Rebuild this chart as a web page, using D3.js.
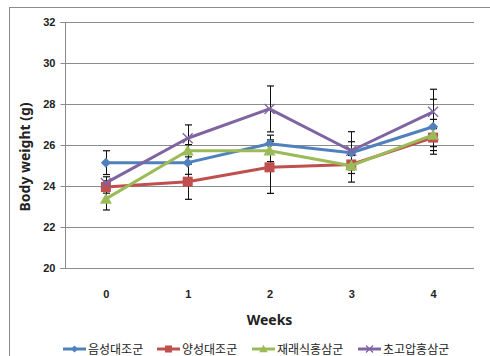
<!DOCTYPE html>
<html>
<head>
<meta charset="utf-8">
<script src="https://cdn.jsdelivr.net/npm/d3@7"></script>
<style>
  html, body { margin: 0; padding: 0; background: #fff; }
  svg { display: block; }
</style>
</head>
<body>
<svg id="chart" width="490" height="356"></svg>
<script>
// Weekly body weight by group
const weeks = ["0", "1", "2", "3", "4"];
const groupNames = ["음성대조군", "양성대조군", "재래식홍삼군", "초고압홍삼군"];
const negControl  = [25.14, 25.14, 26.06, 25.62, 26.89];
const posControl  = [23.95, 24.21, 24.91, 25.05, 26.36];
const conventional = [23.37, 25.72, 25.72, 24.99, 26.49];
const highPressure = [24.15, 26.33, 27.76, 25.72, 27.62];
const negErr  = [0.58, 0.57, 0.42, 0.54, 1.34];
const posErr  = [0.30, 0.86, 1.27, 0.44, 0.44];
const convErr = [0.54, 0.30, 0.53, 0.80, 0.76];
const highErr = [0.30, 0.65, 1.12, 0.93, 1.10];
const yTicks = [20, 22, 24, 26, 28, 30, 32];

const series = [
  { name: groupNames[0], values: negControl,   err: negErr,  color: "#4F81BD", marker: "diamond" },
  { name: groupNames[1], values: posControl,   err: posErr,  color: "#C0504D", marker: "square" },
  { name: groupNames[2], values: conventional, err: convErr, color: "#9BBB59", marker: "triangle" },
  { name: groupNames[3], values: highPressure, err: highErr, color: "#8064A2", marker: "cross" }
];

const svg = d3.select("#chart");
const plot = { left: 65, right: 474, top: 22, bottom: 268 };

// chart frame
svg.append("rect")
  .attr("x", 9.5).attr("y", 7.5)
  .attr("width", 500).attr("height", 400)
  .attr("fill", "none").attr("stroke", "#8c8c8c").attr("stroke-width", 1);

const x = d3.scalePoint().domain(weeks).range([plot.left, plot.right]).padding(0.5);
const y = d3.scaleLinear().domain([20, 32]).range([plot.bottom, plot.top]);

// horizontal gridlines
svg.append("g")
  .selectAll("line")
  .data(yTicks)
  .join("line")
  .attr("x1", plot.left).attr("x2", plot.right)
  .attr("y1", d => Math.round(y(d)) + 0.5).attr("y2", d => Math.round(y(d)) + 0.5)
  .attr("stroke", "#8c8c8c").attr("stroke-width", 1);

// y axis
const yAxis = svg.append("g")
  .attr("transform", `translate(${plot.left + 0.5},0)`)
  .call(d3.axisLeft(y).tickValues(yTicks).tickSize(5).tickPadding(5).tickFormat(d3.format("d")));
yAxis.select(".domain").attr("stroke", "#8c8c8c").attr("d", `M-5,${plot.top + 0.5}H0V${plot.bottom + 0.5}H-5`);
yAxis.selectAll(".tick line").attr("stroke", "#8c8c8c");
yAxis.selectAll(".tick text")
  .attr("font-family", "'Liberation Sans', Arial, sans-serif")
  .attr("font-weight", "bold").attr("font-size", 11).attr("fill", "#222");

// x axis labels (no axis line drawn)
const xAxis = svg.append("g")
  .attr("transform", `translate(0,${plot.bottom})`)
  .call(d3.axisBottom(x).tickSize(0).tickPadding(22));
xAxis.select(".domain").remove();
xAxis.selectAll(".tick text")
  .attr("font-family", "'Liberation Sans', Arial, sans-serif")
  .attr("font-weight", "bold").attr("font-size", 11).attr("fill", "#222");

// axis titles
svg.append("text")
  .attr("x", (plot.left + plot.right) / 2).attr("y", 325)
  .attr("text-anchor", "middle")
  .attr("font-family", "'Noto Sans', sans-serif")
  .attr("font-weight", "bold").attr("font-size", 14).attr("fill", "#222")
  .text("Weeks");

svg.append("text")
  .attr("transform", "translate(30,157) rotate(-90)")
  .attr("text-anchor", "middle")
  .attr("font-family", "'Noto Sans', sans-serif")
  .attr("font-weight", "bold").attr("font-size", 14).attr("fill", "#222")
  .text("Body weight (g)");

// error bars
const errG = svg.append("g");
series.forEach(s => {
  s.values.forEach((v, i) => {
    const cx = Math.round(x(weeks[i])) + 0.5;
    const y1 = y(v + s.err[i]), y2 = y(v - s.err[i]);
    errG.append("line").attr("x1", cx).attr("x2", cx).attr("y1", y1).attr("y2", y2)
      .attr("stroke", "#111").attr("stroke-width", 1);
    [y1, y2].forEach(yy => {
      errG.append("line").attr("x1", cx - 3.5).attr("x2", cx + 3.5).attr("y1", yy).attr("y2", yy)
        .attr("stroke", "#111").attr("stroke-width", 1.2);
    });
  });
});

// marker drawing
function drawMarker(g, type, cx, cy, color, scale = 1) {
  if (type === "diamond") {
    const r = 5 * scale;
    g.append("path").attr("d", `M${cx},${cy - r}L${cx + r},${cy}L${cx},${cy + r}L${cx - r},${cy}Z`).attr("fill", color);
  } else if (type === "square") {
    const r = 5 * scale;
    g.append("rect").attr("x", cx - r).attr("y", cy - r).attr("width", 2 * r).attr("height", 2 * r).attr("fill", color);
  } else if (type === "triangle") {
    const r = 6 * scale;
    g.append("path").attr("d", `M${cx},${cy - r}L${cx + r},${cy + r * 0.8}L${cx - r},${cy + r * 0.8}Z`).attr("fill", color);
  } else {
    const r = 5 * scale;
    g.append("path").attr("d", `M${cx - r},${cy - r}L${cx + r},${cy + r}M${cx + r},${cy - r}L${cx - r},${cy + r}`)
      .attr("stroke", color).attr("stroke-width", 1.3).attr("fill", "none");
  }
}

// series lines and markers
const line = d3.line().x((d, i) => x(weeks[i])).y(d => y(d));
series.forEach(s => {
  const g = svg.append("g");
  g.append("path").datum(s.values).attr("d", line)
    .attr("fill", "none").attr("stroke", s.color).attr("stroke-width", 3).attr("stroke-linejoin", "round");
  s.values.forEach((v, i) => drawMarker(g, s.marker, x(weeks[i]), y(v), s.color));
});

// legend
const legendX = [63, 157, 252, 358];
const legend = svg.append("g");
series.forEach((s, i) => {
  const lx = legendX[i], ly = 349;
  legend.append("line").attr("x1", lx).attr("x2", lx + 23).attr("y1", ly).attr("y2", ly)
    .attr("stroke", s.color).attr("stroke-width", 3);
  drawMarker(legend, s.marker, lx + 11.5, ly, s.color, 0.7);
  legend.append("text").attr("x", lx + 25).attr("y", ly + 4.5)
    .attr("font-family", "'Noto Sans CJK KR', sans-serif").attr("font-size", 12).attr("fill", "#222")
    .text(s.name);
});
</script>
</body>
</html>
